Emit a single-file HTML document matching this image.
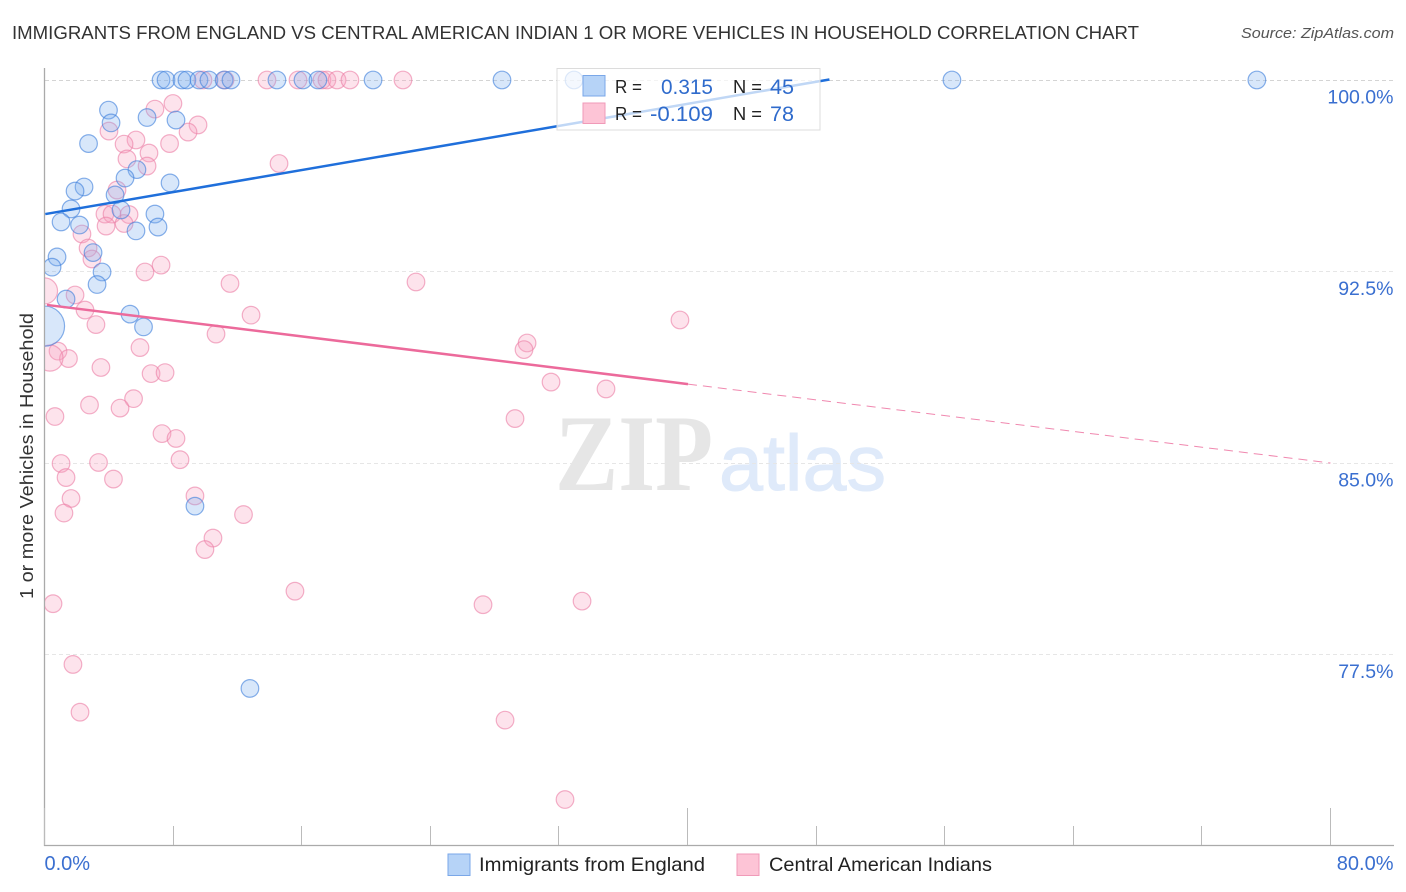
<!DOCTYPE html>
<html lang="en">
<head>
<meta charset="utf-8">
<title>Immigrants from England vs Central American Indian 1 or more Vehicles in Household Correlation Chart</title>
<style>
html,body{margin:0;padding:0;background:#fff;}
body{width:1406px;height:892px;overflow:hidden;}
svg{display:block;font-family:"Liberation Sans",sans-serif;}
</style>
</head>
<body>
<svg id="chart" xmlns="http://www.w3.org/2000/svg" width="1406" height="892" viewBox="0 0 1406 892">
  <defs>
    <clipPath id="plot-clip"><rect x="45" y="60" width="1349" height="785"/></clipPath>
  </defs>
  <text x="12" y="39" font-size="18.5" fill="#333" textLength="1127" lengthAdjust="spacingAndGlyphs">IMMIGRANTS FROM ENGLAND VS CENTRAL AMERICAN INDIAN 1 OR MORE VEHICLES IN HOUSEHOLD CORRELATION CHART</text>
  <text x="1241" y="38" font-size="15" font-style="italic" fill="#555" textLength="153" lengthAdjust="spacingAndGlyphs">Source: ZipAtlas.com</text>
  <g>
    <text x="555" y="490" font-family="'Liberation Serif',serif" font-size="109" font-weight="bold" fill="#e6e6e6" textLength="158" lengthAdjust="spacingAndGlyphs">ZIP</text>
    <text x="719" y="490" font-size="79" fill="#dfeafa" stroke="#dfeafa" stroke-width="1" textLength="167" lengthAdjust="spacingAndGlyphs">atlas</text>
  </g>
  <g id="grid"></g>
  <g id="axes"></g>
  <g id="marks" clip-path="url(#plot-clip)"></g>
  <g id="trends"></g>
  <text transform="translate(33,456) rotate(-90)" text-anchor="middle" font-size="18.5" fill="#333" textLength="286" lengthAdjust="spacingAndGlyphs">1 or more Vehicles in Household</text>

  <g>
    <rect x="557" y="68.5" width="263" height="61.5" fill="#fff" fill-opacity="0.72" stroke="#dcdcdc" stroke-width="1"/>
    <rect x="583" y="75.5" width="22" height="20.5" fill="#b6d3f7" stroke="#7aa7e8" stroke-width="1"/>
    <rect x="583" y="103" width="22" height="20.5" fill="#fdc4d6" stroke="#f09ab8" stroke-width="1"/>
    <text x="615" y="93" font-size="18" fill="#222" textLength="27" lengthAdjust="spacingAndGlyphs">R =</text>
    <text x="661" y="94" font-size="21.5" fill="#2f6bcc" textLength="52" lengthAdjust="spacingAndGlyphs">0.315</text>
    <text x="733" y="93" font-size="18" fill="#222" textLength="29" lengthAdjust="spacingAndGlyphs">N =</text>
    <text x="770" y="94" font-size="21.5" fill="#2f6bcc" textLength="24" lengthAdjust="spacingAndGlyphs">45</text>
    <text x="615" y="120" font-size="18" fill="#222" textLength="27" lengthAdjust="spacingAndGlyphs">R =</text>
    <text x="650" y="121" font-size="21.5" fill="#2f6bcc" textLength="63" lengthAdjust="spacingAndGlyphs">-0.109</text>
    <text x="733" y="120" font-size="18" fill="#222" textLength="29" lengthAdjust="spacingAndGlyphs">N =</text>
    <text x="770" y="121" font-size="21.5" fill="#2f6bcc" textLength="24" lengthAdjust="spacingAndGlyphs">78</text>
  </g>

  <g>
    <rect x="448" y="854" width="22" height="21.5" fill="#b6d3f7" stroke="#7aa7e8" stroke-width="1"/>
    <text x="479" y="871" font-size="19.5" fill="#222" textLength="226" lengthAdjust="spacingAndGlyphs">Immigrants from England</text>
    <rect x="737" y="854" width="22" height="21.5" fill="#fdc4d6" stroke="#f09ab8" stroke-width="1"/>
    <text x="769" y="871" font-size="19.5" fill="#222" textLength="223" lengthAdjust="spacingAndGlyphs">Central American Indians</text>
  </g>
</svg>
<script>
const xTicks = [0, 8, 16, 24, 32, 40, 48, 56, 64, 72, 80];
const xEndLabels = [[0, "0.0%"], [80, "80.0%"]];
const yTicks = [100, 92.5, 85, 77.5];
const yTickLabels = ["100.0%", "92.5%", "85.0%", "77.5%"];

const blueX = [7.25, 7.56, 8.55, 8.86, 9.61, 10.23, 11.17, 11.60, 14.46, 16.08, 17.01, 20.44, 28.46, 32.94, 56.45, 75.42,
  3.98, 4.14, 6.38, 8.18, 2.74, 5.75, 5.01, 7.81, 2.46, 1.90, 4.39, 1.65, 4.76, 6.87, 1.03, 2.18, 5.69, 7.06, 3.02, 0.78, 0.47, 3.58, 3.27, 1.34, 5.32, 6.16, 12.78, 9.36];
const blueY = [100, 100, 100, 100, 100, 100, 100, 100, 100, 100, 100, 100, 100, 100, 100, 100,
  98.82, 98.32, 98.53, 98.43, 97.51, 96.49, 96.16, 95.97, 95.81, 95.65, 95.50, 94.95, 94.91, 94.75, 94.44, 94.32, 94.09, 94.24, 93.24, 93.07, 92.67, 92.48, 91.99, 91.42, 90.83, 90.33, 76.17, 83.31];
const blueLargeX = [0];
const blueLargeY = [90.36];
const blueLargeWeight = [5.2];

const pinkX = [9.86, 11.23, 13.84, 15.77, 17.26, 17.57, 18.20, 19.00, 22.30,
  6.87, 7.99, 9.55, 8.93, 7.78, 4.01, 5.69, 4.95, 6.50, 5.13, 6.38, 14.59, 4.51, 3.76, 4.20, 5.26, 3.83, 4.95, 2.33, 2.71, 2.95, 6.25, 7.25, 11.54, 23.11, 1.90, 12.85, 2.52, 3.20, 10.67, 5.94, 39.53, 30.02, 29.83, 0.84, 1.49, 3.51, 6.63, 7.50, 31.51, 34.93, 5.54, 2.80, 4.70, 0.65, 29.27, 7.31, 8.18, 1.03, 3.36, 8.43, 1.34, 4.29, 1.65, 9.36, 1.21, 12.38, 10.48, 9.98, 15.58, 0.53, 27.28, 33.44, 1.77, 2.21, 28.65, 32.38];
const pinkY = [100, 100, 100, 100, 100, 100, 100, 100, 100,
  98.86, 99.08, 98.24, 97.96, 97.51, 98.00, 97.65, 97.49, 97.14, 96.91, 96.63, 96.73, 95.69, 94.75, 94.75, 94.73, 94.28, 94.38, 93.97, 93.42, 92.99, 92.48, 92.75, 92.03, 92.09, 91.58, 90.79, 90.99, 90.42, 90.05, 89.52, 90.60, 89.70, 89.44, 89.38, 89.09, 88.74, 88.50, 88.54, 88.17, 87.90, 87.52, 87.27, 87.15, 86.82, 86.74, 86.15, 85.96, 84.98, 85.02, 85.13, 84.43, 84.37, 83.61, 83.71, 83.04, 82.98, 82.06, 81.61, 79.98, 79.49, 79.45, 79.59, 77.11, 75.24, 74.93, 71.82];
const pinkLargeX = [0, 0.34];
const pinkLargeY = [91.74, 89.11];
const pinkLargeWeight = [2.2, 2.2];

const blueTrendX = [0.05, 48.83];
const blueTrendY = [94.75, 100.02];
const pinkTrendX = [0.15, 40.03];
const pinkTrendY = [91.19, 88.09];
const pinkProjectionX = [40.03, 80];
const pinkProjectionY = [88.09, 85.0];

const SVGNS = "http://www.w3.org/2000/svg";
const X0 = 44.5, X_PER_UNIT = 16.075;
const Y100 = 80, Y_PER_UNIT = 25.533;
const BASE_R = 8.8;
function xScale(v) { return X0 + v * X_PER_UNIT; }
function yScale(v) { return Y100 + (100 - v) * Y_PER_UNIT; }

function make(tag, attrs, parent) {
  const el = document.createElementNS(SVGNS, tag);
  for (const k in attrs) el.setAttribute(k, attrs[k]);
  parent.appendChild(el);
  return el;
}

const grid = document.getElementById("grid");
const axes = document.getElementById("axes");
const marks = document.getElementById("marks");
const trends = document.getElementById("trends");

yTicks.forEach(function (v, i) {
  const y = Math.round(yScale(v)) + 0.5;
  const line = make("line", {x1: 45, x2: 1394, y1: y, y2: y, stroke: i === 0 ? "#d4d4d4" : "#e6e6e6", "stroke-width": 1, "stroke-dasharray": "4 3"}, grid);
  
  
  const label = make("text", {x: 1393.5, y: yScale(v) + 23.5, "text-anchor": "end", "font-size": 19.5, fill: "#3a6fd0"}, axes);
  
  
  label.textContent = yTickLabels[i];
});

const yAxisLine = make("line", {x1: 44.5, x2: 44.5, y1: 68, y2: 846, stroke: "#aaa", "stroke-width": 1.3}, axes);


const xAxisLine = make("line", {x1: 44, x2: 1394, y1: 845.5, y2: 845.5, stroke: "#aaa", "stroke-width": 1.3}, axes);



xTicks.forEach(function (v) {
  const x = Math.round(xScale(v) - 0.5) + 0.5;
  const top = v % 40 === 0 ? 808 : 826;
  const tick = make("line", {x1: x, x2: x, y1: top, y2: 845, stroke: "#bbb", "stroke-width": 1}, axes);
  
  
});

xEndLabels.forEach(function (entry) {
  const isStart = entry[0] === 0;
  const label = make("text", {x: isStart ? xScale(entry[0]) : 1393.5, y: 870, "text-anchor": isStart ? "start" : "end", "font-size": 20, fill: "#3a6fd0"}, axes);
  
  
  label.textContent = entry[1];
});

function drawPoints(xs, ys, weights, fill, stroke, name) {
  xs.forEach(function (v, i) {
    const w = weights ? weights[i] : 1;
    const c = make("circle", {cx: xScale(v), cy: yScale(ys[i]), r: BASE_R * Math.sqrt(w), fill: fill, "fill-opacity": 0.3, stroke: stroke, "stroke-opacity": 0.62, "stroke-width": 1.2}, marks);
    
    
  });
}
drawPoints(pinkX, pinkY, null, "#f9a3bf", "#ec7fa6", "point-central-american");
drawPoints(pinkLargeX, pinkLargeY, pinkLargeWeight, "#f9a3bf", "#ec7fa6", "point-central-american-large");
drawPoints(blueX, blueY, null, "#7db0ee", "#3f80dc", "point-england");
drawPoints(blueLargeX, blueLargeY, blueLargeWeight, "#7db0ee", "#3f80dc", "point-england-large");

const blueTrend = make("line", {x1: xScale(blueTrendX[0]), y1: yScale(blueTrendY[0]), x2: xScale(blueTrendX[1]), y2: yScale(blueTrendY[1]), stroke: "#1f6fdb", "stroke-width": 2.5}, trends);


const pinkTrend = make("line", {x1: xScale(pinkTrendX[0]), y1: yScale(pinkTrendY[0]), x2: xScale(pinkTrendX[1]), y2: yScale(pinkTrendY[1]), stroke: "#ec6a9b", "stroke-width": 2.5}, trends);


const pinkProjection = make("line", {x1: xScale(pinkProjectionX[0]), y1: yScale(pinkProjectionY[0]), x2: xScale(pinkProjectionX[1]), y2: yScale(pinkProjectionY[1]), stroke: "#ec6a9b", "stroke-opacity": 0.8, "stroke-width": 1, "stroke-dasharray": "9 6"}, trends);


</script>
</body>
</html>
